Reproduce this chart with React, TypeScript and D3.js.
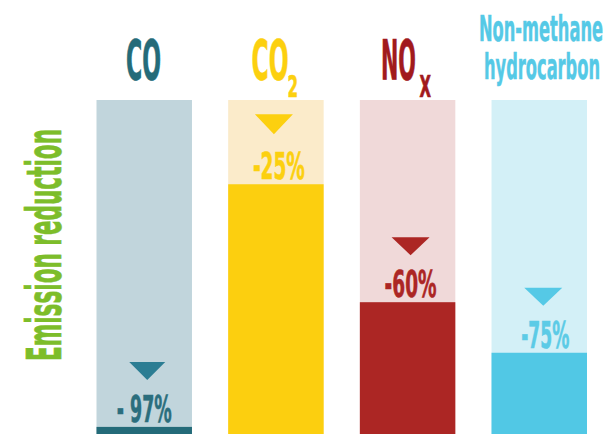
import React from "react";
import * as d3 from "d3";

// ---- data ----
const categories = ["CO", "CO2", "NOx", "Non-methane hydrocarbon"];
const reductions = [97, 25, 60, 75];
const valueLabels = ["- 97%", "-25%", "-60%", "-75%"];
const axisTitle = "Emission reduction";

// ---- styles ----
const darkColors = ["#246b79", "#fccf0f", "#ac2624", "#51c8e5"];
const lightColors = ["#c1d5dc", "#fbebca", "#f0d9d9", "#d3f0f7"];
const titleColors = ["#246b79", "#fcd00f", "#a11a1d", "#55c9e6"];
const markerColors = ["#2b7d93", "#fcd00f", "#ac2624", "#55c9e6"];
const labelColors = ["#2b6e7d", "#fcd00f", "#ac2624", "#5ccbe6"];
const labelWidths = [55, 52, 52, 48];
const labelShift = [0, 3, 3, 6];
const markerShift = [3, -2, 3, 4];
const FONT = "'Liberation Sans Narrow', 'DejaVu Sans Condensed', sans-serif";

const W = 608;
const H = 434;

export default function App() {
  const x = d3
    .scaleBand<string>()
    .domain(categories)
    .range([96.5, 587])
    .paddingInner(0.275)
    .paddingOuter(0);
  const y = d3.scaleLinear().domain([0, 100]).range([100, 437]);
  const bw = x.bandwidth();

  const tri = (cx: number, top: number, w: number, h: number) =>
    d3.line()([
      [cx - w / 2, top],
      [cx + w / 2, top],
      [cx, top + h],
    ]) + "Z";

  const cx = (i: number) => (x(categories[i]) as number) + bw / 2;

  return (
    <svg
      width={W}
      height={H}
      style={{ position: "absolute", left: 0, top: 0, background: "#fff" }}
    >
      {categories.map((c, i) => {
        const x0 = x(c) as number;
        const yt = y(reductions[i]);
        const tw = i === 0 ? 36 : 38;
        const th = i === 1 ? 20 : 18;
        return (
          <g key={c}>
            <rect x={x0} y={y(0)} width={bw} height={y(100) - y(0)} fill={lightColors[i]} />
            <rect x={x0} y={yt} width={bw} height={y(100) - yt} fill={darkColors[i]} />
            <path
              d={tri(cx(i) + markerShift[i], yt - (i === 1 ? 70 : 65), tw, th)}
              fill={markerColors[i]}
            />
            <text
              x={cx(i) + labelShift[i] - labelWidths[i] / 2}
              y={yt - 5}
              fontFamily={FONT}
              fontWeight="bold"
              fontSize={37}
              fill={labelColors[i]}
              stroke={labelColors[i]}
              strokeWidth={0.6}
              textLength={labelWidths[i]}
              lengthAdjust="spacingAndGlyphs"
            >
              {valueLabels[i]}
            </text>
          </g>
        );
      })}

      {/* titles */}
      <g fontFamily={FONT} fontWeight="bold" strokeWidth={0.7}>
        <text x={126} y={79} fontSize={56} fill={titleColors[0]} stroke={titleColors[0]} textLength={35} lengthAdjust="spacingAndGlyphs">
          CO
        </text>
        <text x={251.5} y={79} fontSize={56} fill={titleColors[1]} stroke={titleColors[1]} textLength={37} lengthAdjust="spacingAndGlyphs">
          CO
        </text>
        <text x={287.5} y={97} fontSize={30} fill={titleColors[1]} stroke={titleColors[1]} textLength={10.5} lengthAdjust="spacingAndGlyphs">
          2
        </text>
        <text x={381} y={79} fontSize={56} fill={titleColors[2]} stroke={titleColors[2]} textLength={35} lengthAdjust="spacingAndGlyphs">
          NO
        </text>
        <text x={419.5} y={97} fontSize={30} fill={titleColors[2]} stroke={titleColors[2]} textLength={11.5} lengthAdjust="spacingAndGlyphs">
          X
        </text>
        <text x={479} y={41} fontSize={35} fill={titleColors[3]} stroke={titleColors[3]} strokeWidth={0.5} textLength={124} lengthAdjust="spacingAndGlyphs">
          Non-methane
        </text>
        <text x={484} y={79} fontSize={35} fill={titleColors[3]} stroke={titleColors[3]} strokeWidth={0.5} textLength={116} lengthAdjust="spacingAndGlyphs">
          hydrocarbon
        </text>
      </g>

      {/* axis title */}
      <text
        transform="translate(60.5,361) rotate(-90)"
        fontFamily={FONT}
        fontWeight="bold"
        fontSize={48}
        fill="#7dbd2a"
        stroke="#7dbd2a"
        strokeWidth={0.7}
        textLength={232}
        lengthAdjust="spacingAndGlyphs"
      >
        {axisTitle}
      </text>
    </svg>
  );
}
